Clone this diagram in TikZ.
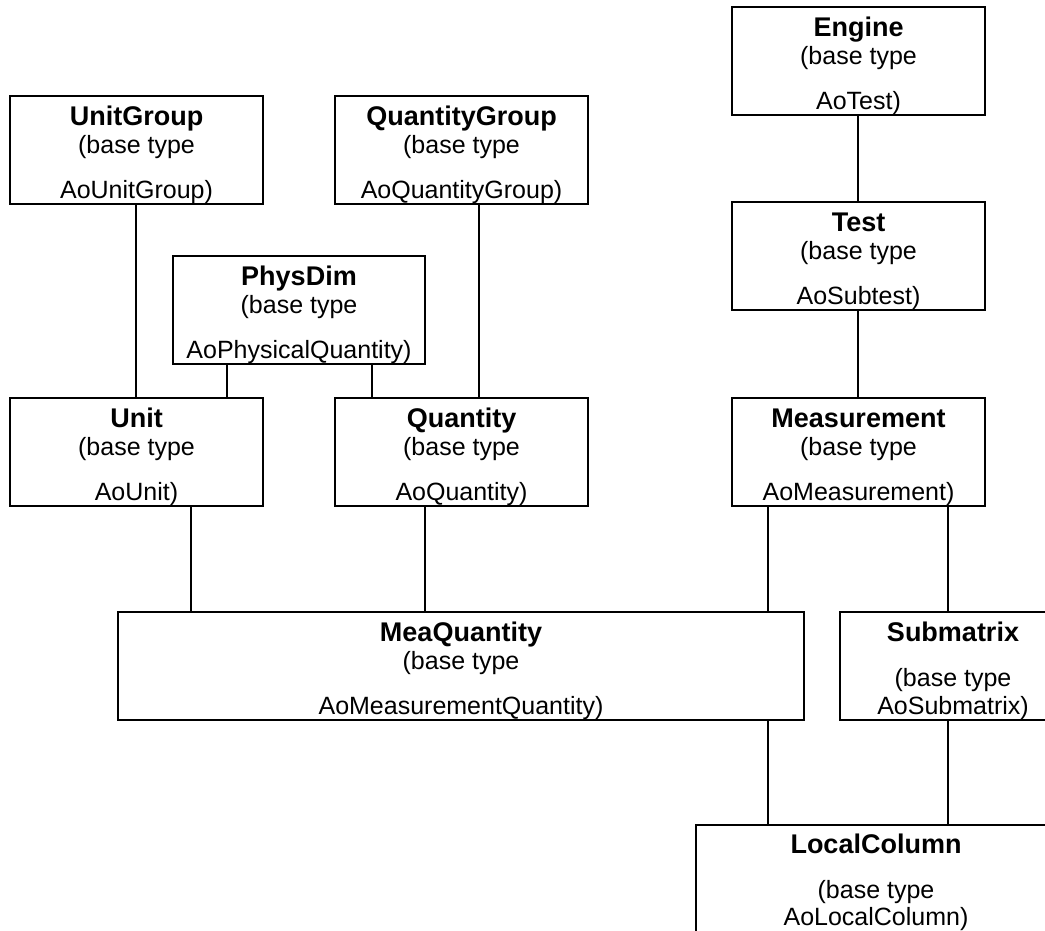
\documentclass[tikz,border=0pt]{standalone}
\usepackage{fontspec}
\setmainfont{Liberation Sans}
\usetikzlibrary{calc}
\tikzset{
  cls/.style={draw, line width=1.6pt, rectangle, inner sep=0pt, outer sep=0pt,
    minimum height=108pt, anchor=north west},
  ttl/.style={anchor=base, inner sep=0pt, font=\fontsize{27}{30}\selectfont\bfseries},
  txt/.style={anchor=base, inner sep=0pt, font=\fontsize{25}{30}\selectfont},
  link/.style={line width=1.6pt},
}
% name, x, y, width, title, offset of "(base type", last line, its offset
\newcommand\mkbox[8]{%
  \node[cls, minimum width=#4] (#1) at (#2,#3) {};
  \node[ttl] (#1-t) at ([yshift=-29pt]#1.north) {#5};
  \node[txt] (#1-b) at ([yshift=-#6]#1.north) {(base type};
  \node[txt] (#1-l) at ([yshift=-#8]#1.north) {#7};
}
\newcommand\vlink[3]{%
  \path ([xshift=#3]#1.south) coordinate (lk);
  \draw[link] (lk) -- (lk |- #2.north);
}
\begin{document}
\begin{tikzpicture}[x=1pt,y=-1pt]
\useasboundingbox (0,0) rectangle (1045,930);
\fill[white] (0,0) rectangle (1045,930);
\begin{scope}
\clip (0,0) rectangle (1045,930);
\mkbox{ug}{10}{96}{253pt}{UnitGroup}{57pt}{AoUnitGroup)}{102pt}
\mkbox{qg}{335}{96}{253pt}{QuantityGroup}{57pt}{AoQuantityGroup)}{102pt}
\mkbox{eng}{732}{7}{253pt}{Engine}{57pt}{AoTest)}{102pt}
\mkbox{test}{732}{202}{253pt}{Test}{57pt}{AoSubtest)}{102pt}
\mkbox{pd}{173}{256}{252pt}{PhysDim}{57pt}{AoPhysicalQuantity)}{102pt}
\mkbox{u}{10}{398}{253pt}{Unit}{57pt}{AoUnit)}{102pt}
\mkbox{q}{335}{398}{253pt}{Quantity}{57pt}{AoQuantity)}{102pt}
\mkbox{meas}{732}{398}{253pt}{Measurement}{57pt}{AoMeasurement)}{102pt}
\mkbox{mq}{118}{612}{686pt}{MeaQuantity}{57pt}{AoMeasurementQuantity)}{102pt}
\mkbox{sub}{840}{612}{226pt}{Submatrix}{74pt}{AoSubmatrix)}{102pt}
% LocalColumn (cut off at the bottom)
\node[cls, minimum width=360pt, minimum height=130pt] (lc) at (696,825) {};
\node[ttl] (lc-t) at ([yshift=-28pt]lc.north) {LocalColumn};
\node[txt] (lc-b) at ([yshift=-73pt]lc.north) {(base type};
\node[txt] (lc-l) at ([yshift=-100pt]lc.north) {AoLocalColumn)};
% connectors
\vlink{ug}{u}{-0.5pt}
\vlink{qg}{q}{17.5pt}
\vlink{pd}{u}{-72pt}
\vlink{pd}{q}{73pt}
\vlink{eng}{test}{-0.5pt}
\vlink{test}{meas}{-0.5pt}
\vlink{u}{mq}{54.5pt}
\vlink{q}{mq}{-36.5pt}
\vlink{meas}{mq}{-90.5pt}
\vlink{meas}{sub}{89.5pt}
\vlink{mq}{lc}{307pt}
\vlink{sub}{lc}{-5pt}
\end{scope}
\end{tikzpicture}
\end{document}
